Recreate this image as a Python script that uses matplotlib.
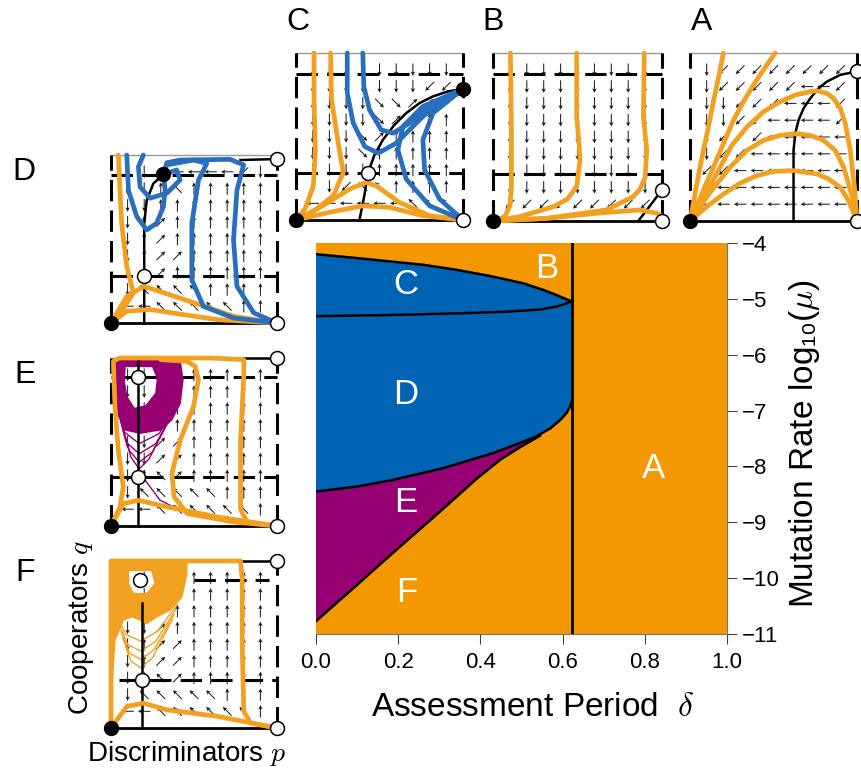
import numpy as np
import matplotlib.pyplot as plt
from matplotlib.path import Path
from matplotlib.patches import PathPatch

plt.rcParams['font.family'] = ['Liberation Sans', 'DejaVu Sans']
plt.rcParams['mathtext.fontset'] = 'cm'

ORANGE = '#F39800'
BLUE = '#0064B4'
PURPLE = '#960073'
TR_ORANGE = '#F2A020'
TR_BLUE = '#2A6FBE'

# ---------------- main phase diagram (delta, log10 mu) ----------------
delta_crit = 0.622
upper_c = [(0, -4.20), (0.099, -4.27), (0.18, -4.33), (0.261, -4.39), (0.342, -4.48),
           (0.423, -4.59), (0.504, -4.72), (0.553, -4.84), (0.585, -4.93), (0.61, -5.01),
           (0.622, -5.04)]
lower_c = [(0, -5.31), (0.18, -5.29), (0.342, -5.26), (0.464, -5.23), (0.545, -5.19),
           (0.585, -5.14), (0.61, -5.08), (0.622, -5.04)]
lower_d = [(0, -8.45), (0.1, -8.36), (0.188, -8.24), (0.31, -8.03), (0.431, -7.76),
           (0.5, -7.57), (0.536, -7.46), (0.57, -7.32), (0.594, -7.17), (0.61, -7.04),
           (0.618, -6.93), (0.622, -6.85)]
e_f_line = [(0, -10.77), (0.1, -10.12), (0.196, -9.49), (0.3, -8.82), (0.391, -8.22),
            (0.45, -7.87), (0.5, -7.64), (0.545, -7.45)]
region_labels = ['C', 'B', 'D', 'E', 'F', 'A']
region_pos_px = [(406, 285), (547, 268), (406, 394), (406, 503), (407, 592), (654, 468)]
x_ticks = [0.0, 0.2, 0.4, 0.6, 0.8, 1.0]
y_ticks = [-4, -5, -6, -7, -8, -9, -10, -11]

# ---------------- small phase portraits (p, q in 0..1) ----------------
# arrow directions on a 9x9 grid, rows q = 0.9 .. 0.1, columns p = 0.1 .. 0.9
A_arrows = ["↓↙↙↙↙↙↙↙↙", "↓↙↙↙↙↙←←↙", "↓↓↙↙↙←←←↙", "↓↓↙↙←←←←↙", "↓↙↙↙←←←←←",
            "↓↙↙←←←←←←", "↙↙←←←←←←←", "↙←←←←←←←←", "←←←←←←←←←"]
B_arrows = ["↓↓↓↓↓↓↓↓↓"] * 8 + ["↙↙↙↙↙↙↙↙↙"]
C_arrows = ["↓↓↓↓↓↓↓↓↓", "↓↓↓↓↓↓↓↙↙", "↓↓↓↓↘↘↗↗↗", "↓↓↓↓↘↗↑↑↑", "↓↓↓↘↗↑↑↑↑",
            "↓↓↓↘↑↑↑↑↑", "↓↓↓↓↑↑↑↑↑", "↓↓↙↖↖↑↑↑↑", "←←←←←←↖↖↖"]
D_arrows = ["↓↓↙←←←←↙↓", "↓↓↑↖↑↑↑↑↑", "↓↓↑↑↑↑↑↑↑", "↓↑↗↑↑↑↑↑↑", "↓↑↗↑↑↑↑↑↑",
            "↓↑↗↗↑↑↑↑↑", "↓↑↗↑↑↑↑↑↑", "↓↖↖↖↖↑↑↑↑", "←←↖↖↖↖↖↑↑"]
E_arrows = ["↓↓↑↑↑↑↑↑↑", "↓↓↑↑↑↑↑↑↑", "↓↓↗↑↑↑↑↑↑", "↓↓↗↑↑↑↑↑↑", "↓↓↗↗↑↑↑↑↑",
            "↓↓↗↗↑↑↑↑↑", "↓↑↖↗↑↑↑↑↑", "↓↖↖↖↖↖↑↑↑", "←←↖↖↖↖↖↖↑"]
F_arrows = ["↓↓↑↑↑↑↑↑↑", "↓↓↑↑↑↑↑↑↑", "↓↓↗↑↑↑↑↑↑", "↓↓↗↑↑↑↑↑↑", "↓↑↗↗↑↑↑↑↑",
            "↓↑↗↗↑↑↑↑↑", "↓↑↖↗↑↑↑↑↑", "↓↖↖↖↖↖↑↑↑", "←←↖↖↖↖↖↖↑"]

A_null = [(0.62, 0), (0.62, 0.42), (0.63, 0.52), (0.65, 0.6), (0.68, 0.67), (0.72, 0.73),
          (0.77, 0.79), (0.82, 0.83), (0.9, 0.87), (1, 0.89)]
A_filled = [(0, 0)]
A_open = [(1, 0), (1, 0.89)]
A_orange = [
    [(0.2, 1), (0.17, 0.85), (0.14, 0.71), (0.11, 0.56), (0.08, 0.42), (0.05, 0.27),
     (0.03, 0.16), (0, 0)],
    [(0.51, 1), (0.44, 0.9), (0.38, 0.81), (0.32, 0.71), (0.26, 0.6), (0.2, 0.46),
     (0.14, 0.32), (0.07, 0.16), (0, 0)],
    [(1, 0), (0.985, 0.2), (0.96, 0.42), (0.93, 0.58), (0.9, 0.67), (0.86, 0.73),
     (0.82, 0.76), (0.76, 0.775), (0.72, 0.77), (0.63, 0.75), (0.54, 0.71), (0.44, 0.65),
     (0.34, 0.56), (0.25, 0.45), (0.18, 0.32), (0.1, 0.17), (0, 0)],
    [(1, 0), (0.97, 0.15), (0.92, 0.32), (0.87, 0.42), (0.8, 0.48), (0.72, 0.51),
     (0.64, 0.52), (0.54, 0.51), (0.44, 0.48), (0.34, 0.42), (0.24, 0.32), (0.12, 0.17), (0, 0)],
    [(1, 0), (0.95, 0.12), (0.9, 0.2), (0.83, 0.25), (0.76, 0.28), (0.62, 0.3), (0.5, 0.295),
     (0.4, 0.27), (0.3, 0.225), (0.2, 0.16), (0.1, 0.085), (0, 0)],
]

B_hdash = [(0.877, 0, 1), (0.28, 0, 1)]
B_null = [(0.86, 0), (1, 0.185)]
B_filled = [(0, 0)]
B_open = [(1, 0), (1, 0.185)]
B_orange = [
    [(0.103, 1), (0.109, 0.52), (0.109, 0.2), (0.1, 0.09), (0.07, 0.026), (0, 0)],
    [(0.495, 1), (0.495, 0.62), (0.51, 0.45), (0.515, 0.364), (0.495, 0.205), (0.44, 0.13),
     (0.356, 0.085), (0.158, 0.026), (0, 0)],
    [(0.895, 1), (0.89, 0.62), (0.91, 0.42), (0.90, 0.26), (0.87, 0.19), (0.83, 0.145),
     (0.67, 0.066), (0.32, 0.016), (0, 0)],
    [(1, 0), (0.99, 0.035), (0.97, 0.046), (0.87, 0.066), (0.61, 0.046), (0.32, 0.016), (0, 0)],
]

C_hdash = [(0.877, 0, 1), (0.28, 0, 1)]
C_null = [(0.38, 0), (0.41, 0.15), (0.43, 0.28), (0.47, 0.39), (0.52, 0.48), (0.59, 0.57),
          (0.66, 0.64), (0.74, 0.70), (0.82, 0.74), (0.91, 0.77), (1, 0.785)]
C_filled = [(0, 0), (1, 0.785)]
C_open = [(1, 0), (0.43, 0.28)]
C_orange = [
    [(0.108, 1), (0.108, 0.72), (0.116, 0.42), (0.104, 0.205), (0.054, 0.066), (0, 0)],
    [(0.207, 1), (0.213, 0.72), (0.253, 0.46), (0.283, 0.284), (0.223, 0.145),
     (0.084, 0.036), (0, 0)],
    [(1, 0), (0.80, 0.026), (0.62, 0.105), (0.48, 0.205), (0.42, 0.225), (0.32, 0.185),
     (0.16, 0.085), (0, 0)],
    [(1, 0), (0.76, 0.026), (0.56, 0.076), (0.40, 0.085), (0.20, 0.046), (0, 0)],
]
C_blue = [
    [(0.307, 1), (0.307, 0.76), (0.343, 0.58), (0.412, 0.44), (0.492, 0.40), (0.60, 0.46),
     (0.76, 0.62), (0.90, 0.73), (1, 0.785)],
    [(0.40, 1), (0.406, 0.80), (0.44, 0.66), (0.51, 0.54), (0.58, 0.52), (0.68, 0.58),
     (0.82, 0.70), (1, 0.785)],
    [(1, 0), (0.80, 0.085), (0.66, 0.245), (0.61, 0.42), (0.64, 0.56), (0.76, 0.68), (1, 0.785)],
    [(1, 0), (0.86, 0.125), (0.77, 0.30), (0.76, 0.48), (0.82, 0.64), (1, 0.785)],
]

D_hdash = [(0.88, 0, 1), (0.277, 0, 1)]
D_null = [(0.2, 0), (0.2, 0.277), (0.2, 0.59), (0.215, 0.73), (0.255, 0.83), (0.316, 0.885)]
D_topline = [(0.78, 0.97), (1, 0.976)]
D_filled = [(0, 0), (0.316, 0.885)]
D_open = [(1, 0), (0.2, 0.277), (1, 0.976)]
D_orange = [
    [(0.044, 1), (0.064, 0.594), (0.095, 0.337), (0.135, 0.178), (0.054, 0.059), (0, 0)],
    [(1, 0), (0.74, 0.04), (0.44, 0.14), (0.2, 0.218), (0.095, 0.158), (0, 0)],
    [(1, 0), (0.64, 0.02), (0.235, 0.08), (0.095, 0.07), (0, 0)],
]
D_blue = [
    [(0.095, 1), (0.105, 0.79), (0.155, 0.634), (0.215, 0.554), (0.275, 0.594),
     (0.316, 0.693), (0.326, 0.792), (0.316, 0.885)],
    [(0.195, 1), (0.165, 0.93), (0.175, 0.81), (0.235, 0.743), (0.336, 0.772),
     (0.416, 0.851), (0.396, 0.911), (0.316, 0.885)],
    [(1, 0), (0.738, 0.03), (0.557, 0.099), (0.487, 0.257), (0.487, 0.594), (0.527, 0.851),
     (0.577, 0.95), (0.497, 0.97), (0.336, 0.941), (0.316, 0.885)],
    [(1, 0), (0.86, 0.06), (0.759, 0.218), (0.738, 0.495), (0.759, 0.792), (0.799, 0.941),
     (0.718, 0.974), (0.416, 0.97), (0.336, 0.954), (0.316, 0.885)],
]

E_hdash = [(0.886, 0, 1), (0.289, 0, 1)]
E_null = [(0.165, 0), (0.165, 1)]
E_topline = [(0.8, 1), (1, 1)]
E_filled = [(0, 0)]
E_open = [(1, 0), (1, 1), (0.165, 0.886), (0.165, 0.289)]
E_cycle_outer = [(0.024, 0.99), (0.417, 0.986), (0.433, 0.87), (0.417, 0.731), (0.366, 0.631),
                 (0.296, 0.572), (0.175, 0.552), (0.084, 0.572), (0.038, 0.672), (0.02, 0.811)]
E_cycle_hole = [(0.085, 0.95), (0.25, 0.95), (0.28, 0.88), (0.27, 0.79), (0.21, 0.715),
                (0.14, 0.70), (0.095, 0.77), (0.08, 0.86)]
E_loops = [
    [(0.04, 0.70), (0.08, 0.56), (0.17, 0.49), (0.29, 0.55), (0.40, 0.72)],
    [(0.05, 0.66), (0.09, 0.50), (0.17, 0.43), (0.27, 0.49), (0.38, 0.68)],
    [(0.06, 0.62), (0.11, 0.45), (0.17, 0.38), (0.25, 0.44), (0.36, 0.65)],
    [(0.07, 0.58), (0.12, 0.41), (0.17, 0.34), (0.23, 0.40), (0.34, 0.62)],
    [(0.175, 0.313), (0.296, 0.153), (0.457, 0.074), (0.738, 0.024), (1, 0)],
]
E_orange = [
    [(1, 0), (0.82, 0.024), (0.78, 0.1), (0.78, 0.5), (0.80, 0.9), (0.80, 0.99), (0.6, 1.0),
     (0.05, 1.0), (0.014, 0.98), (0.024, 0.71), (0.044, 0.45), (0.074, 0.233),
     (0.054, 0.113), (0, 0)],
    [(1, 0), (0.74, 0.024), (0.46, 0.074), (0.38, 0.173), (0.367, 0.313), (0.417, 0.512),
     (0.497, 0.711), (0.527, 0.871), (0.507, 0.95), (0.457, 0.98), (0.3, 0.99)],
    [(1, 0), (0.64, 0.054), (0.336, 0.114), (0.165, 0.153), (0.074, 0.133), (0, 0)],
]

F_hdash = [(0.889, 0.5, 0.95), (0.288, 0.05, 1)]
F_null = [(0.185, 0), (0.185, 0.75)]
F_topline = [(0.78, 1), (1, 1)]
F_filled = [(0, 0)]
F_open = [(1, 0), (1, 1), (0.175, 0.889), (0.185, 0.288)]
F_cycle_outer = [(0, 1), (0.457, 1), (0.457, 0.924), (0.427, 0.785), (0.356, 0.706),
                 (0.276, 0.666), (0.215, 0.626), (0.175, 0.646), (0.125, 0.666), (0.074, 0.646),
                 (0.024, 0.527), (0.01, 0.328), (0, 0.169)]
F_cycle_hole = [(0.105, 0.944), (0.245, 0.944), (0.266, 0.865), (0.215, 0.805),
                (0.135, 0.805), (0.105, 0.865)]
F_loops = [
    [(0.04, 0.66), (0.09, 0.56), (0.18, 0.52), (0.28, 0.58), (0.40, 0.74)],
    [(0.05, 0.62), (0.10, 0.50), (0.18, 0.46), (0.27, 0.52), (0.39, 0.71)],
    [(0.06, 0.58), (0.11, 0.45), (0.18, 0.41), (0.26, 0.47), (0.38, 0.68)],
    [(0.07, 0.54), (0.12, 0.40), (0.18, 0.36), (0.25, 0.42), (0.37, 0.65)],
]
F_orange = [
    [(1, 0), (0.84, 0.03), (0.8, 0.1), (0.79, 0.5), (0.79, 0.9), (0.78, 1.0), (0.0, 1.0), (0, 0)],
    [(1, 0), (0.64, 0.07), (0.336, 0.109), (0.195, 0.149), (0.095, 0.129), (0, 0)],
]

W, H = 861, 776
fig = plt.figure(figsize=(W / 100, H / 100), dpi=100)


def px_axes(x, y, w, h):
    return fig.add_axes([x / W, 1 - (y + h) / H, w / W, h / H])


def xy(pts):
    a = np.array(pts, dtype=float)
    return a[:, 0], a[:, 1]


DIRS = {'↑': 90, '↓': 270, '←': 180, '→': 0, '↗': 45, '↖': 135, '↙': 225, '↘': 315}


def draw_panel(ax, arrows, hdash=(), null=None, topline=None, filled=(), opened=(),
               orange=(), blue=(), cycle=None, loops=(), cycle_color=PURPLE):
    ax.set_xlim(0, 1)
    ax.set_ylim(0, 1)
    ax.axis('off')
    # arrow field
    X, Y, U, V = [], [], [], []
    for i, row in enumerate(arrows):
        for j, ch in enumerate(row):
            if ch in DIRS:
                a = np.deg2rad(DIRS[ch])
                X.append(0.1 + 0.1 * j)
                Y.append(0.9 - 0.1 * i)
                U.append(0.075 * np.cos(a))
                V.append(0.075 * np.sin(a))
    ax.quiver(X, Y, U, V, angles='xy', scale_units='xy', scale=1, pivot='mid',
              width=0.006, headwidth=4.5, headlength=4.5, headaxislength=3.5,
              color='#1a1a1a', zorder=1)
    # frame
    ax.plot([0, 1], [1, 1], color='#999999', lw=1, clip_on=False, zorder=1)
    ax.plot([0, 1], [0, 0], color='black', lw=2, clip_on=False, zorder=2)
    for xv in (0, 1):
        ax.plot([xv, xv], [0, 1], color='black', lw=2.2, dashes=(7, 3),
                clip_on=False, zorder=2)
    for q, p0, p1 in hdash:
        ax.plot([p0, p1], [q, q], color='black', lw=2.2, dashes=(7, 3),
                clip_on=False, zorder=2)
    if cycle is not None:
        outer, hole = cycle
        ov = list(outer) + [outer[0]]
        hv = list(hole[::-1]) + [hole[-1]]
        verts = ov + hv
        codes = ([Path.MOVETO] + [Path.LINETO] * (len(outer) - 1) + [Path.CLOSEPOLY] +
                 [Path.MOVETO] + [Path.LINETO] * (len(hole) - 1) + [Path.CLOSEPOLY])
        ax.add_patch(PathPatch(Path(verts, codes), facecolor=cycle_color,
                               edgecolor=cycle_color, lw=1, zorder=3))
    for lp in loops:
        ax.plot(*xy(lp), color=cycle_color, lw=1.0, zorder=3)
    if null is not None:
        ax.plot(*xy(null), color='black', lw=1.8, clip_on=False, zorder=4)
    if topline is not None:
        ax.plot(*xy(topline), color='black', lw=1.8, clip_on=False, zorder=4)
    for tr in orange:
        ax.plot(*xy(tr), color=TR_ORANGE, lw=3.4, clip_on=False, zorder=5,
                solid_joinstyle='round', solid_capstyle='round')
    for tr in blue:
        ax.plot(*xy(tr), color=TR_BLUE, lw=3.4, clip_on=False, zorder=5,
                solid_joinstyle='round', solid_capstyle='round')
    for p, q in filled:
        ax.plot(p, q, 'o', ms=10, color='black', clip_on=False, zorder=7)
    for p, q in opened:
        ax.plot(p, q, 'o', ms=10, mfc='white', mec='black', mew=1.1, clip_on=False, zorder=7)


axC = px_axes(296, 53, 167, 167)
draw_panel(axC, C_arrows, C_hdash, C_null, None, C_filled, C_open, C_orange, C_blue)
axB = px_axes(493, 53, 169, 168)
draw_panel(axB, B_arrows, B_hdash, B_null, None, B_filled, B_open, B_orange)
axA = px_axes(690, 53, 167, 168)
draw_panel(axA, A_arrows, (), A_null, None, A_filled, A_open, A_orange)
axD = px_axes(111, 155, 166, 168)
draw_panel(axD, D_arrows, D_hdash, D_null, D_topline, D_filled, D_open, D_orange, D_blue)
axE = px_axes(111, 358, 166, 168)
draw_panel(axE, E_arrows, E_hdash, E_null, E_topline, E_filled, E_open, E_orange,
           cycle=(E_cycle_outer, E_cycle_hole), loops=E_loops, cycle_color=PURPLE)
axF = px_axes(111, 561, 166, 167)
draw_panel(axF, F_arrows, F_hdash, F_null, F_topline, F_filled, F_open, F_orange,
           cycle=(F_cycle_outer, F_cycle_hole), loops=F_loops, cycle_color=TR_ORANGE)

# panel letters
for lab, (x, y) in zip(['A', 'B', 'C', 'D', 'E', 'F'],
                       [(702, 22), (493, 22), (298, 22), (24, 172), (25, 375), (25, 573)]):
    fig.text(x / W, 1 - y / H, lab, fontsize=23, ha='center', va='center')

fig.text(81 / W, 1 - 628 / H, r'Cooperators $q$', fontsize=20, rotation=90,
         ha='center', va='center')
fig.text(187 / W, 1 - 754 / H, r'Discriminators $p$', fontsize=20, ha='center', va='center')

# ---------------- main panel ----------------
ax = px_axes(316, 243, 411, 391)
ax.set_facecolor(ORANGE)
ax.set_xlim(0, 1)
ax.set_ylim(-11, -4)

uc_x, uc_y = xy(upper_c)
ld_x, ld_y = xy(lower_d)
ax.fill(np.concatenate([uc_x, ld_x[::-1]]), np.concatenate([uc_y, ld_y[::-1]]),
        color=BLUE, lw=0, zorder=1)
ef_x, ef_y = xy(e_f_line)
keep = ld_x <= ef_x[-1]
ax.fill(np.concatenate([ld_x[keep], ef_x[::-1]]), np.concatenate([ld_y[keep], ef_y[::-1]]),
        color=PURPLE, lw=0, zorder=1)
for curve in (upper_c, lower_c, lower_d, e_f_line):
    ax.plot(*xy(curve), color='black', lw=1.8, zorder=2)
ax.axvline(delta_crit, color='black', lw=2, zorder=2)

for lab, (x, y) in zip(region_labels, region_pos_px):
    fig.text(x / W, 1 - y / H, lab, fontsize=25, color='white', ha='center', va='center')

ax.set_xticks(x_ticks)
ax.set_xticklabels(['%.1f' % v for v in x_ticks])
ax.set_yticks(y_ticks)
ax.yaxis.tick_right()
ax.tick_params(axis='both', labelsize=16, length=7, width=0.8, color='#444444')
ax.tick_params(axis='x', pad=6)
for s in ('top', 'left'):
    ax.spines[s].set_visible(False)
for s in ('bottom', 'right'):
    ax.spines[s].set_color('#777777')
    ax.spines[s].set_linewidth(0.8)

fig.text(533 / W, 1 - 708 / H, r'Assessment Period  $\delta$', fontsize=24,
         ha='center', va='center')
fig.text(805 / W, 1 - 443 / H, r'Mutation Rate log₁₀($\mu$)', fontsize=24,
         rotation=90, ha='center', va='center')

fig.savefig('out.png', dpi=100)
